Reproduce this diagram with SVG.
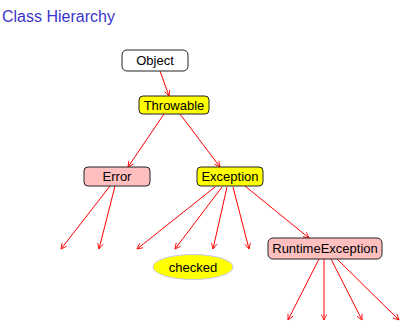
<svg xmlns="http://www.w3.org/2000/svg" width="401" height="326" viewBox="0 0 401 326">
<style>
.t{font-family:"Liberation Sans",Arial,sans-serif;font-size:13px;fill:#000;text-anchor:middle}
.box{stroke:#222;stroke-width:1}
.e{stroke:#ff0000;stroke-width:1;fill:none;marker-end:url(#a)}
</style>
<defs>
<marker id="a" viewBox="0 0 10 10" refX="9" refY="5" markerWidth="7" markerHeight="7" orient="auto" markerUnits="userSpaceOnUse">
<path d="M1,1 L9,5 L1,9" fill="none" stroke="#ff0000" stroke-width="1.2"/>
</marker>
</defs>
<rect width="401" height="326" fill="#fff"/>
<text x="2" y="22" style="font-family:'Liberation Sans',Arial,sans-serif;font-size:16px;fill:#3a35c8">Class Hierarchy</text>
<g id="edges">
<line class="e" x1="160" y1="71" x2="169" y2="96"/>
<line class="e" x1="164" y1="114" x2="128" y2="167"/>
<line class="e" x1="180" y1="114" x2="220" y2="167"/>
<line class="e" x1="110" y1="186" x2="61" y2="249"/>
<line class="e" x1="115" y1="186" x2="99" y2="249"/>
<line class="e" x1="215" y1="187" x2="137" y2="249"/>
<line class="e" x1="222" y1="187" x2="175" y2="249"/>
<line class="e" x1="227" y1="187" x2="213" y2="249"/>
<line class="e" x1="233" y1="187" x2="249" y2="249"/>
<line class="e" x1="245" y1="186" x2="309" y2="238"/>
<line class="e" x1="319" y1="259" x2="288" y2="320"/>
<line class="e" x1="324" y1="259" x2="324" y2="320"/>
<line class="e" x1="331" y1="259" x2="362" y2="320"/>
<line class="e" x1="337" y1="259" x2="399" y2="320"/>
</g>
<g id="object">
<rect class="box" x="122" y="50" width="66" height="21" rx="5" fill="#fff"/>
<text class="t" x="155" y="65">Object</text>
</g>
<g id="throwable">
<rect class="box" x="139" y="96" width="70" height="18" rx="4" fill="#ffff00"/>
<text class="t" x="174" y="110">Throwable</text>
</g>
<g id="error">
<rect class="box" x="84" y="167" width="66" height="19" rx="4" fill="#ffbfbf"/>
<text class="t" x="117" y="181">Error</text>
</g>
<g id="exception">
<rect class="box" x="197" y="167" width="66" height="19" rx="4" fill="#ffff00"/>
<text class="t" x="230" y="181">Exception</text>
</g>
<g id="runtimeexception">
<rect class="box" x="268" y="238" width="114" height="21" rx="5" fill="#ffbfbf"/>
<text class="t" x="325" y="253">RuntimeException</text>
</g>
<g id="checked">
<ellipse cx="193" cy="267" rx="40" ry="12.5" fill="#ffff00" stroke="#c8c8e8" stroke-width="1"/>
<text class="t" x="193" y="271.5">checked</text>
</g>
</svg>
